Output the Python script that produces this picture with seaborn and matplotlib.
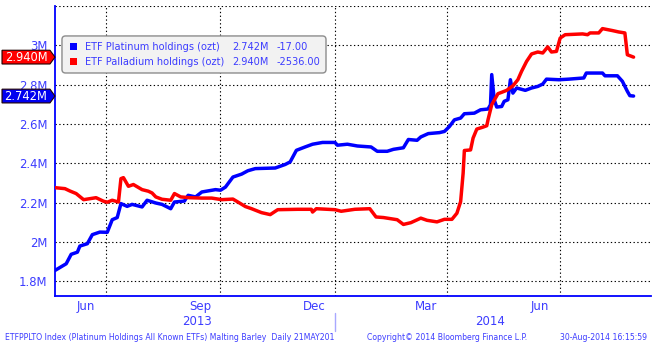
import numpy as np
import pandas as pd
import matplotlib
matplotlib.use("Agg")
import matplotlib.pyplot as plt
import matplotlib.dates as mdates
from matplotlib.patches import FancyBboxPatch, Rectangle, Polygon
from matplotlib.lines import Line2D
from matplotlib.ticker import FixedLocator, MultipleLocator, NullFormatter
from matplotlib.transforms import blended_transform_factory
import seaborn as sns

# ---------------- data ----------------
plat_dates = ["2013-05-21","2013-05-30","2013-06-03","2013-06-08","2013-06-10","2013-06-16","2013-06-20","2013-06-26",
              "2013-07-02","2013-07-06","2013-07-10","2013-07-13","2013-07-18","2013-07-22","2013-07-30","2013-08-03",
              "2013-08-10","2013-08-15","2013-08-22","2013-08-25","2013-09-02","2013-09-05","2013-09-11","2013-09-16",
              "2013-09-27","2013-10-01","2013-10-05","2013-10-11","2013-10-18","2013-10-23","2013-10-29","2013-11-14",
              "2013-11-22","2013-11-26","2013-12-01","2013-12-08","2013-12-14","2013-12-22","2014-01-01","2014-01-03",
              "2014-01-11","2014-01-19","2014-01-30","2014-02-04","2014-02-12","2014-02-17","2014-02-25","2014-03-01",
              "2014-03-08","2014-03-11","2014-03-17","2014-03-26","2014-03-30","2014-04-03","2014-04-07","2014-04-12",
              "2014-04-15","2014-04-23","2014-04-28","2014-05-04","2014-05-06","2014-05-07","2014-05-09","2014-05-11",
              "2014-05-15","2014-05-17","2014-05-20","2014-05-22","2014-05-24","2014-05-27","2014-06-03","2014-06-08",
              "2014-06-13","2014-06-17","2014-06-20","2014-06-30","2014-07-08","2014-07-20","2014-07-22","2014-08-04",
              "2014-08-06","2014-08-16","2014-08-20","2014-08-24","2014-08-26","2014-08-29"]
plat_vals = [1.855,1.889,1.937,1.948,1.979,1.991,2.037,2.050,2.049,2.113,2.124,2.195,2.181,2.191,2.178,2.212,
             2.198,2.191,2.169,2.203,2.208,2.237,2.229,2.254,2.266,2.263,2.279,2.330,2.345,2.362,2.373,2.376,
             2.394,2.407,2.466,2.483,2.497,2.506,2.506,2.492,2.497,2.488,2.483,2.461,2.461,2.471,2.479,2.521,
             2.517,2.534,2.551,2.556,2.562,2.587,2.621,2.630,2.652,2.655,2.672,2.676,2.698,2.851,2.723,2.686,
             2.689,2.715,2.723,2.825,2.757,2.783,2.771,2.783,2.791,2.803,2.828,2.825,2.828,2.834,2.859,2.859,
             2.845,2.845,2.817,2.766,2.744,2.742]

pall_dates = ["2013-05-21","2013-05-29","2013-06-02","2013-06-07","2013-06-13","2013-06-18","2013-06-23","2013-06-29",
              "2013-07-02","2013-07-06","2013-07-11","2013-07-13","2013-07-15","2013-07-19","2013-07-23","2013-07-30",
              "2013-08-04","2013-08-07","2013-08-10","2013-08-15","2013-08-22","2013-08-25","2013-08-30","2013-09-06",
              "2013-09-16","2013-09-24","2013-10-02","2013-10-11","2013-10-15","2013-10-21","2013-10-26","2013-11-03",
              "2013-11-10","2013-11-16","2013-12-02","2013-12-13","2013-12-14","2013-12-17","2014-01-01","2014-01-06",
              "2014-01-17","2014-01-29","2014-02-03","2014-02-09","2014-02-20","2014-02-25","2014-03-03","2014-03-11",
              "2014-03-16","2014-03-24","2014-03-30","2014-04-05","2014-04-09","2014-04-12","2014-04-14","2014-04-15",
              "2014-04-20","2014-04-22","2014-04-25","2014-04-30","2014-05-03","2014-05-04","2014-05-07","2014-05-12",
              "2014-05-15","2014-05-19","2014-05-24","2014-05-28","2014-05-31","2014-06-04","2014-06-08","2014-06-13",
              "2014-06-17","2014-06-21","2014-06-24","2014-06-28","2014-07-01","2014-07-05","2014-07-19","2014-07-23",
              "2014-07-25","2014-08-01","2014-08-04","2014-08-12","2014-08-17","2014-08-22","2014-08-24","2014-08-29"]
pall_vals = [2.276,2.271,2.259,2.246,2.215,2.220,2.225,2.207,2.202,2.212,2.203,2.322,2.327,2.283,2.292,2.266,
             2.258,2.249,2.229,2.217,2.212,2.246,2.229,2.225,2.223,2.223,2.215,2.218,2.203,2.180,2.169,2.149,
             2.139,2.164,2.166,2.166,2.152,2.169,2.164,2.156,2.166,2.169,2.127,2.124,2.113,2.089,2.098,2.121,
             2.110,2.102,2.115,2.115,2.146,2.205,2.349,2.465,2.468,2.528,2.574,2.584,2.591,2.621,2.698,2.754,
             2.761,2.771,2.794,2.825,2.868,2.918,2.956,2.966,2.961,2.992,2.966,2.969,3.037,3.054,3.058,3.054,
             3.063,3.063,3.085,3.075,3.068,3.063,2.952,2.940]

series_names = ["ETF Platinum holdings (ozt)", "ETF Palladium holdings (ozt)"]
last_labels = ["2.742M", "2.940M"]
change_labels = ["-17.00", "-2536.00"]
y_ticks = [1.8, 2.0, 2.2, 2.4, 2.6, 2.8, 3.0, 3.2]
y_ticklabels = ["1.8M", "2M", "2.2M", "2.4M", "2.6M", "2.8M", "3M", ""]
month_label_dates = ["2013-06-15", "2013-09-15", "2013-12-15", "2014-03-15", "2014-06-15"]
month_labels = ["Jun", "Sep", "Dec", "Mar", "Jun"]
quarter_dates = ["2013-07-01", "2013-10-01", "2014-01-01", "2014-04-01", "2014-07-01"]
year_label_dates = ["2013-09-12", "2014-05-06"]
year_labels = ["2013", "2014"]
footer_left = "ETFPPLTO Index (Platinum Holdings All Known ETFs) Malting Barley  Daily 21MAY201"
footer_mid = "Copyright\u00a9 2014 Bloomberg Finance L.P."
footer_right = "30-Aug-2014 16:15:59"

BLUE = "#0000ff"
RED = "#ff0000"
TXT = "#3c3cff"

df = pd.concat([
    pd.DataFrame({"date": pd.to_datetime(plat_dates), "value": plat_vals, "series": series_names[0]}),
    pd.DataFrame({"date": pd.to_datetime(pall_dates), "value": pall_vals, "series": series_names[1]}),
], ignore_index=True)

sns.set_style("white")
plt.rcParams["font.family"] = ["DejaVu Sans"]

W, H = 652, 346
fig = plt.figure(figsize=(W / 100, H / 100), dpi=100)
ax = fig.add_axes([55 / W, 50 / H, 596 / W, 290 / H])

sns.lineplot(data=df, x="date", y="value", hue="series",
             palette={series_names[0]: BLUE, series_names[1]: RED},
             linewidth=2.5, ax=ax, legend=False, zorder=3)

ax.set_xlim(pd.Timestamp("2013-05-21"), pd.Timestamp("2014-09-12"))
ax.set_ylim(1.725, 3.2)
ax.set_xlabel("")
ax.set_ylabel("")

# spines
for s in ["top", "right"]:
    ax.spines[s].set_visible(False)
for s in ["left", "bottom"]:
    ax.spines[s].set_color(BLUE)
    ax.spines[s].set_linewidth(1.3)

# y axis
ax.yaxis.set_major_locator(FixedLocator(y_ticks))
ax.set_yticklabels(y_ticklabels)
ax.yaxis.set_minor_locator(MultipleLocator(0.1))
ax.tick_params(axis="y", which="major", direction="out", length=4.5, width=1, color=BLUE,
               labelcolor=TXT, labelsize=8.4, pad=1)
ax.tick_params(axis="y", which="minor", direction="out", length=2, width=1, color=BLUE)

# x axis: month-start tick marks (major), mid-month labels (minor)
ax.xaxis.set_major_locator(mdates.MonthLocator())
ax.xaxis.set_major_formatter(NullFormatter())
ax.xaxis.set_minor_locator(FixedLocator(mdates.date2num(pd.to_datetime(month_label_dates))))
ax.xaxis.set_minor_formatter(matplotlib.ticker.FixedFormatter(month_labels))
ax.tick_params(axis="x", which="major", direction="out", length=2.5, width=1, color=BLUE)
ax.tick_params(axis="x", which="minor", length=0, labelcolor=TXT, labelsize=8.5, pad=3)

# grid
dot = (0, (1.2, 2.2))
ax.grid(False)
for v in y_ticks:
    ax.axhline(v, color="black", lw=0.8, ls=dot, zorder=1)
for d in quarter_dates:
    ax.axvline(pd.Timestamp(d), color="black", lw=0.8, ls=dot, zorder=1)

# year labels and separator
bt = blended_transform_factory(ax.transData, ax.transAxes)
for d, t in zip(year_label_dates, year_labels):
    ax.text(pd.Timestamp(d), -0.088, t, transform=bt, ha="center", va="center",
            fontsize=8.5, color=TXT, clip_on=False)
ax.add_line(Line2D([mdates.date2num(pd.Timestamp("2014-01-01"))] * 2, [-0.058, -0.12],
                   transform=bt, color="#a8a8ff", lw=1, clip_on=False))

# legend box (custom)
leg = FancyBboxPatch((0.0117, 0.769), 0.443, 0.1277,
                     boxstyle="round,pad=0,rounding_size=0.006", mutation_aspect=596 / 290,
                     transform=ax.transAxes, facecolor="#f2f2f2", edgecolor="#8c8c8c",
                     lw=1, zorder=5)
ax.add_patch(leg)
rows_y = [0.8597, 0.8079]
for i, (c, yy) in enumerate(zip([BLUE, RED], rows_y)):
    ax.add_patch(Rectangle((0.0252, yy - 0.012), 0.0118, 0.024, transform=ax.transAxes,
                           facecolor=c, edgecolor="none", zorder=6))
    ax.text(0.0503, yy, series_names[i], transform=ax.transAxes, ha="left", va="center",
            fontsize=7.8, fontstretch="condensed", color=TXT, zorder=6)
    ax.text(0.2982, yy, last_labels[i], transform=ax.transAxes, ha="left", va="center",
            fontsize=7.8, fontstretch="condensed", color=TXT, zorder=6)
    ax.text(0.372, yy, change_labels[i], transform=ax.transAxes, ha="left", va="center",
            fontsize=7.8, fontstretch="condensed", color=TXT, zorder=6)

# last value tags on the left
tt = blended_transform_factory(ax.transAxes, ax.transData)
hh = 0.035
for last, lab, c in [(plat_vals[-1], last_labels[0], "#0000f0"), (pall_vals[-1], last_labels[1], "#ff0000")]:
    x0, x1, xp = -0.0889, -0.0084, 0.0
    poly = Polygon([(x0, last - hh), (x1, last - hh), (xp, last), (x1, last + hh), (x0, last + hh)],
                   closed=True, transform=tt, facecolor=c, edgecolor="#200000", lw=0.8,
                   clip_on=False, zorder=7)
    ax.add_patch(poly)
    ax.text((x0 + x1) / 2, last, lab, transform=tt, ha="center", va="center",
            fontsize=8.3, color="white", clip_on=False, zorder=8)

# footer
fy = 1 - 337 / H
fig.text(5 / W, fy, footer_left, ha="left", va="center", fontsize=6.2, fontstretch="condensed", color=TXT)
fig.text(367 / W, fy, footer_mid, ha="left", va="center", fontsize=6.2, fontstretch="condensed", color=TXT)
fig.text(647 / W, fy, footer_right, ha="right", va="center", fontsize=6.2, fontstretch="condensed", color=TXT)

fig.savefig("out.png", dpi=100, facecolor="white")
